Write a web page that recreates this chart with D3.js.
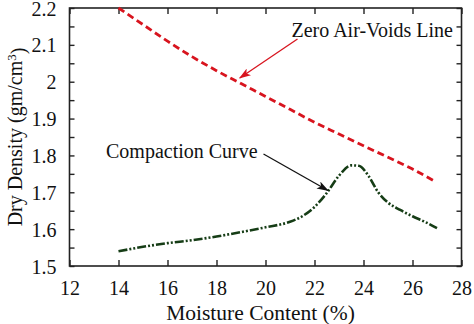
<!DOCTYPE html>
<html>
<head>
<meta charset="utf-8">
<script src="https://cdnjs.cloudflare.com/ajax/libs/d3/7.8.5/d3.min.js"></script>
<style>
  body { margin: 0; background: #fff; }
  svg { display: block; }
  text { font-family: "Liberation Serif", "Times New Roman", serif; fill: #111; }
</style>
</head>
<body>
<svg width="474" height="324"></svg>
<script>
// moisture content (%) vs dry density (gm/cm3)
var zavMoisture = [14, 15, 16, 17, 18, 19, 20, 21, 22, 23, 24, 25, 26, 26.9];
var zavDensity = [2.2, 2.155, 2.11, 2.068, 2.03, 1.995, 1.96, 1.925, 1.89, 1.858, 1.826, 1.795, 1.763, 1.73];

var compMoisture = [14, 15, 16, 17, 18, 19, 20, 21, 21.5, 22, 22.5, 23, 23.5, 23.8, 24.2, 24.6, 25, 25.5, 26, 26.5, 27];
var compDensity = [1.54, 1.552, 1.562, 1.57, 1.58, 1.592, 1.605, 1.62, 1.635, 1.66, 1.698, 1.745, 1.773, 1.772, 1.745, 1.7, 1.672, 1.652, 1.635, 1.62, 1.603];

var xTicks = [12, 14, 16, 18, 20, 22, 24, 26, 28];
var yTicks = [1.5, 1.6, 1.7, 1.8, 1.9, 2, 2.1, 2.2];

var serif = "'Liberation Serif', 'Times New Roman', serif";

var svg = d3.select("svg"),
    margin = { top: 8, right: 12.5, bottom: 58, left: 69.5 },
    width = +svg.attr("width") - margin.left - margin.right,
    height = +svg.attr("height") - margin.top - margin.bottom;

var x = d3.scaleLinear().domain([12, 28]).range([0, width]);
var y = d3.scaleLinear().domain([1.5, 2.2]).range([height, 0]);

var g = svg.append("g").attr("transform", "translate(" + margin.left + "," + margin.top + ")");

// arrow heads
var defs = svg.append("defs");
function arrowHead(id, color) {
  defs.append("marker")
    .attr("id", id)
    .attr("viewBox", "0 0 12 8")
    .attr("refX", 11).attr("refY", 4)
    .attr("markerWidth", 12).attr("markerHeight", 8)
    .attr("markerUnits", "userSpaceOnUse")
    .attr("orient", "auto")
    .append("path")
    .attr("d", "M0,0 L12,4 L0,8 L3,4 Z")
    .attr("fill", color);
}
arrowHead("arrow-red", "#d8141e");
arrowHead("arrow-black", "#111");

// ticks: bottom/top majors, left/right with half steps
var minorY = d3.range(1.5, 2.2001, 0.05);

g.append("g").attr("class", "axis axis--x")
  .attr("transform", "translate(0," + height + ")")
  .call(d3.axisBottom(x).tickValues(xTicks).tickSize(-6).tickPadding(15).tickFormat(d3.format("d")));
g.append("g").attr("class", "axis axis--top")
  .call(d3.axisTop(x).tickValues(xTicks).tickSize(-6).tickFormat(""));
g.append("g").attr("class", "axis axis--y")
  .call(d3.axisLeft(y).tickValues(yTicks).tickSize(0).tickPadding(13).tickFormat(function (d) { return d === 2 ? "2" : d3.format(".1f")(d); }));
g.append("g").attr("class", "axis axis--yminor")
  .call(d3.axisLeft(y).tickValues(minorY).tickSize(-5).tickFormat(""));
g.append("g").attr("class", "axis axis--right")
  .attr("transform", "translate(" + width + ",0)")
  .call(d3.axisRight(y).tickValues(minorY).tickSize(-5).tickFormat(""));

g.selectAll(".axis").attr("font-family", serif);
g.selectAll(".axis path").remove();
g.selectAll(".axis line").attr("stroke", "#222").attr("stroke-width", 1.4);
g.selectAll(".axis text").style("font-size", "20px").style("font-family", serif).attr("fill", "#111");
g.select(".axis--y").selectAll("text").attr("dy", "0.35em");

// frame
g.append("rect")
  .attr("width", width).attr("height", height)
  .attr("fill", "none").attr("stroke", "#222").attr("stroke-width", 1.6);

var zav = zavMoisture.map(function (m, i) { return { m: m, d: zavDensity[i] }; });
var comp = compMoisture.map(function (m, i) { return { m: m, d: compDensity[i] }; });

var line = d3.line()
  .x(function (d) { return x(d.m); })
  .y(function (d) { return y(d.d); })
  .curve(d3.curveMonotoneX);

// zero air-voids line
g.append("path").datum(zav)
  .attr("d", line)
  .attr("fill", "none")
  .attr("stroke", "#d8141e")
  .attr("stroke-width", 2.8)
  .attr("stroke-dasharray", "7,4");

// compaction curve
g.append("path").datum(comp)
  .attr("d", line)
  .attr("fill", "none")
  .attr("stroke", "#163d16")
  .attr("stroke-width", 2.6)
  .attr("stroke-dasharray", "9,2,2,2,2,2");

// labels with arrows
g.append("text")
  .attr("x", 222).attr("y", 29)
  .style("font-size", "20px")
  .text("Zero Air-Voids Line");
g.append("line")
  .attr("x1", 228).attr("y1", 31)
  .attr("x2", x(18.95)).attr("y2", y(2.01))
  .attr("stroke", "#d8141e").attr("stroke-width", 1.3)
  .attr("marker-end", "url(#arrow-red)");

g.append("text")
  .attr("x", 36.5).attr("y", 150)
  .style("font-size", "20px")
  .text("Compaction Curve");
g.append("line")
  .attr("x1", 194).attr("y1", 146)
  .attr("x2", x(22.55)).attr("y2", y(1.705))
  .attr("stroke", "#111").attr("stroke-width", 1.3)
  .attr("marker-end", "url(#arrow-black)");

// axis titles
svg.append("text")
  .attr("x", margin.left + width / 2 - 5).attr("y", 320)
  .attr("text-anchor", "middle")
  .style("font-size", "21.5px")
  .text("Moisture Content (%)");

var yt = svg.append("text")
  .attr("transform", "translate(22,137) rotate(-90)")
  .attr("text-anchor", "middle")
  .style("font-size", "20px");
yt.append("tspan").text("Dry Density (gm/cm");
yt.append("tspan").attr("dy", "-0.45em").style("font-size", "13px").text("3");
yt.append("tspan").attr("dy", "0.45em").text(")");
</script>
</body>
</html>
